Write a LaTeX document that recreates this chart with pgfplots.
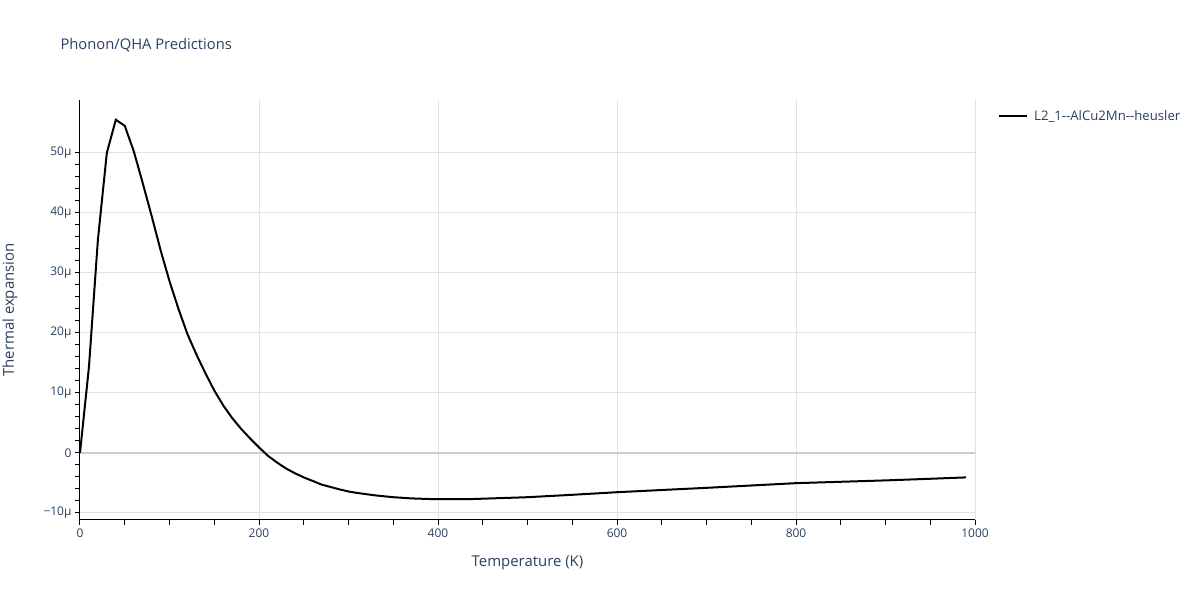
\documentclass[border=0pt]{standalone}
\usepackage{fontspec}
\setmainfont{Open Sans}
\usepackage{pgfplots}
\pgfplotsset{compat=1.18}

\definecolor{plotlytext}{HTML}{2A3F5F}
\definecolor{gridgray}{HTML}{E2E2E2}
\definecolor{zerogray}{HTML}{CDCDCD}

\begin{document}
\begin{tikzpicture}
  \path[use as bounding box] (0,0) rectangle (1200bp,600bp);
  \node[anchor=west, text=plotlytext, font=\fontsize{14.8}{18}\selectfont]
    at (57bp,555bp) {Phonon/QHA Predictions};
  \begin{axis}[
      at={(80bp,80bp)}, anchor=south west,
      scale only axis,
      width=895bp, height=420bp,
      xmin=0, xmax=1000,
      ymin=-11.2, ymax=58.8,
      axis lines*=left,
      axis line style={black, line width=1bp},
      xtick={0,200,...,1000},
      xticklabels={0,200,400,600,800,1000},
      ytick={-10,0,10,...,50},
      yticklabels={−10μ,0,10μ,20μ,30μ,40μ,50μ},
      minor x tick num=3,
      minor y tick num=4,
      tick align=outside,
      major tick length=5bp,
      minor tick length=5bp,
      tick style={black, line width=1bp},
      grid=major,
      major grid style={gridgray, line width=1bp},
      extra y ticks={0},
      extra y tick labels={},
      extra y tick style={grid=major, major grid style={zerogray, line width=2bp}, major tick length=0pt},
      ticklabel style={text=plotlytext, font=\fontsize{12}{14}\selectfont},
      /pgf/number format/assume math mode=true,
      xlabel={Temperature (K)},
      ylabel={Thermal expansion},
      label style={text=plotlytext, font=\fontsize{15}{18}\selectfont},
      xlabel style={at={(axis description cs:0.5,0)}, anchor=center, yshift=-43bp},
      ylabel style={at={(axis description cs:0,0.5)}, anchor=center, yshift=70bp},
      legend style={
        at={(axis description cs:1,1)}, anchor=north west,
        xshift=20bp, yshift=-6bp,
        draw=none, fill=none,
        font=\fontsize{13.2}{16}\selectfont, text=plotlytext,
        legend cell align=left,
      },
      legend image code/.code={\draw[#1] (0bp,0bp) -- (28bp,0bp); \path (32bp,0bp);},
    ]
    \addplot[black, line width=2bp, mark=none] coordinates {
      (0,0) (10,14.3) (20,35.5) (30,50.0) (40,55.5) (50,54.5) (60,50.3)
      (70,45.0) (80,39.5) (90,33.8) (100,28.6) (110,24.0) (120,19.8)
      (130,16.4) (140,13.3) (150,10.4) (160,7.9) (170,5.8) (180,4.0)
      (190,2.4) (200,0.9) (210,-0.5) (220,-1.6) (230,-2.6) (240,-3.4)
      (250,-4.1) (260,-4.7) (270,-5.3) (280,-5.7) (290,-6.1) (300,-6.45)
      (310,-6.7) (320,-6.9) (330,-7.1) (340,-7.25) (350,-7.4) (360,-7.5)
      (370,-7.6) (380,-7.65) (390,-7.7) (400,-7.72) (410,-7.74) (420,-7.74)
      (430,-7.72) (440,-7.7) (450,-7.65) (460,-7.6) (470,-7.55) (480,-7.5)
      (490,-7.45) (500,-7.4) (550,-7.0) (600,-6.57) (650,-6.2) (700,-5.84)
      (750,-5.45) (800,-5.06) (850,-4.83) (900,-4.6) (950,-4.33) (990,-4.1)
    };
    \addlegendentry{L2\_1-{}-AlCu2Mn-{}-heusler}
  \end{axis}
\end{tikzpicture}
\end{document}
